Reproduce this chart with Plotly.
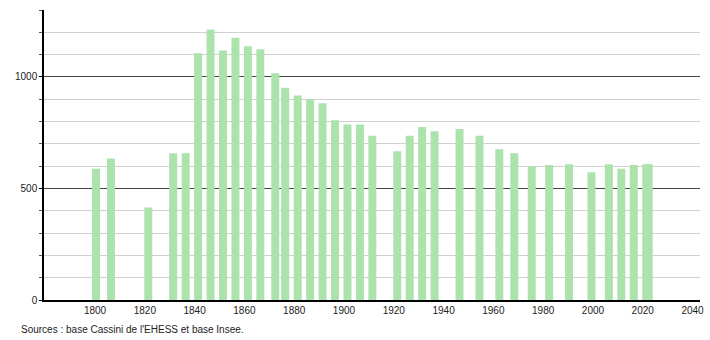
import plotly.graph_objects as go

years = [1800, 1806, 1821, 1831, 1836, 1841, 1846, 1851, 1856, 1861, 1866, 1872, 1876,
         1881, 1886, 1891, 1896, 1901, 1906, 1911, 1921, 1926, 1931, 1936, 1946, 1954,
         1962, 1968, 1975, 1982, 1990, 1999, 2006, 2011, 2016, 2021, 2022]
population = [588, 634, 415, 658, 658, 1106, 1213, 1119, 1176, 1137, 1124, 1016, 951,
              917, 900, 882, 806, 787, 787, 736, 667, 736, 775, 757, 766, 736,
              676, 658, 600, 605, 609, 573, 609, 588, 605, 609, 609]
x_ticks = list(range(1800, 2041, 20))
source_text = "Sources : base Cassini de l'EHESS et base Insee."

FONT = "Liberation Sans, Arial, sans-serif"

fig = go.Figure()
fig.add_trace(go.Bar(
    x=[y + 0.4 for y in years], y=population, width=3.2,
    marker=dict(color="rgb(172,226,172)", line=dict(width=0)),
    hoverinfo="skip",
))

fig.update_layout(
    width=710, height=340,
    margin=dict(l=44, r=10, t=10, b=40),
    paper_bgcolor="white", plot_bgcolor="white",
    showlegend=False,
    font=dict(family=FONT, size=10, color="#222"),
    xaxis=dict(
        range=[1779.5, 2043], tickvals=x_ticks, ticks="", showgrid=False,
        showline=True, linecolor="black", linewidth=1.5, zeroline=False,
        automargin=False,
        tickfont=dict(size=10, family=FONT, color="#222"),
    ),
    yaxis=dict(
        range=[0, 1300], tickvals=[0, 500, 1000], ticks="outside", ticklen=3,
        tickcolor="black", showline=True, linecolor="black", linewidth=1.5,
        gridcolor="#444", gridwidth=1, zeroline=False, automargin=False,
        minor=dict(dtick=100, showgrid=True, gridcolor="#d0d0d0", gridwidth=1,
                   ticks="outside", ticklen=3, tickcolor="#555"),
        tickfont=dict(size=10, family=FONT, color="#222"),
    ),
    annotations=[dict(
        text=source_text, xref="paper", yref="paper", x=-0.038, y=-0.077,
        xanchor="left", yanchor="top", showarrow=False,
        font=dict(size=10, family=FONT, color="#222"),
    )],
)

fig.write_html("out.html")
